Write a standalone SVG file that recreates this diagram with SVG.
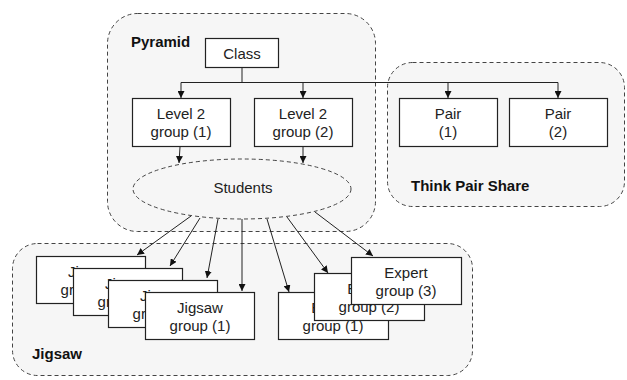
<svg xmlns="http://www.w3.org/2000/svg" width="627" height="380" viewBox="0 0 627 380">
<style>
.cont{fill:#f6f6f6;stroke:#444;stroke-width:1;stroke-dasharray:4 3}
.box{fill:#fff;stroke:#222;stroke-width:1.2}
.t{font-family:"Liberation Sans",Arial,sans-serif;font-size:15px;fill:#222;text-anchor:middle}
.b{font-family:"Liberation Sans",Arial,sans-serif;font-size:15px;font-weight:bold;fill:#111}
.c{fill:none;stroke:#222;stroke-width:1}
</style>
<defs>
<marker id="ah" viewBox="0 0 10 10" refX="10" refY="5" markerWidth="7" markerHeight="7" orient="auto" markerUnits="userSpaceOnUse">
<path d="M0,0 L10,5 L0,10 z" fill="#111"/>
</marker>
</defs>
<g id="pyramid">
<rect class="cont" x="107.5" y="13.5" width="268" height="218" rx="30"/>
<text class="b" x="131" y="47">Pyramid</text>
</g>
<g id="tps">
<rect class="cont" x="387.5" y="62.5" width="237" height="144" rx="25"/>
<text class="b" x="411" y="191">Think Pair Share</text>
</g>
<g id="jigsaw">
<rect class="cont" x="12.5" y="243.5" width="460" height="132" rx="25"/>
<text class="b" x="32" y="359">Jigsaw</text>
</g>
<g id="class"><rect class="box" x="205.5" y="38.5" width="73" height="29"/><text class="t" x="242" y="59">Class</text></g>
<g id="level1"><rect class="box" x="132.5" y="98.5" width="98" height="48"/><text class="t" x="181" y="119">Level 2</text><text class="t" x="181" y="137">group (1)</text></g>
<g id="level2"><rect class="box" x="254.5" y="98.5" width="98" height="48"/><text class="t" x="303" y="119">Level 2</text><text class="t" x="303" y="137">group (2)</text></g>
<g id="pair1"><rect class="box" x="399.5" y="98.5" width="98" height="48"/><text class="t" x="448" y="119">Pair</text><text class="t" x="448" y="137">(1)</text></g>
<g id="pair2"><rect class="box" x="509.5" y="98.5" width="98" height="48"/><text class="t" x="558" y="119">Pair</text><text class="t" x="558" y="137">(2)</text></g>
<g id="students"><ellipse cx="242" cy="189" rx="109" ry="30" fill="#f6f6f6" stroke="#444" stroke-dasharray="4 3"/><text class="t" x="243" y="193">Students</text></g>
<g id="connectors">
<path class="c" d="M242,67 V82.5 M181,82.5 H558"/>
<path class="c" marker-end="url(#ah)" d="M181,82.5 V98"/>
<path class="c" marker-end="url(#ah)" d="M303,82.5 V98"/>
<path class="c" marker-end="url(#ah)" d="M448,82.5 V98"/>
<path class="c" marker-end="url(#ah)" d="M558,82.5 V98"/>
<path class="c" marker-end="url(#ah)" d="M180,147 L179,163"/>
<path class="c" marker-end="url(#ah)" d="M303,147 L303,163"/>
<path class="c" marker-end="url(#ah)" d="M191,216 L137,255"/>
<path class="c" marker-end="url(#ah)" d="M200,218 L170,266"/>
<path class="c" marker-end="url(#ah)" d="M218,219 L207,278"/>
<path class="c" marker-end="url(#ah)" d="M242,219 L242,291"/>
<path class="c" marker-end="url(#ah)" d="M267,219 L289,292"/>
<path class="c" marker-end="url(#ah)" d="M287,217 L328,273"/>
<path class="c" marker-end="url(#ah)" d="M315,212 L373,256"/>
</g>
<g id="jig4"><rect class="box" x="36.5" y="256.5" width="109" height="47"/><text class="t" x="91" y="277">Jigsaw</text><text class="t" x="91" y="295">group (4)</text></g>
<g id="jig3"><rect class="box" x="73.5" y="268.5" width="109" height="47"/><text class="t" x="128" y="289">Jigsaw</text><text class="t" x="128" y="307">group (3)</text></g>
<g id="jig2"><rect class="box" x="108.5" y="280.5" width="109" height="47"/><text class="t" x="163" y="301">Jigsaw</text><text class="t" x="163" y="319">group (2)</text></g>
<g id="jig1"><rect class="box" x="145.5" y="292.5" width="109" height="47"/><text class="t" x="200" y="313">Jigsaw</text><text class="t" x="200" y="331">group (1)</text></g>
<g id="exp1"><rect class="box" x="278.5" y="292.5" width="110" height="47"/><text class="t" x="333" y="313">Expert</text><text class="t" x="333" y="331">group (1)</text></g>
<g id="exp2"><rect class="box" x="314.5" y="273.5" width="110" height="47"/><text class="t" x="369" y="294">Expert</text><text class="t" x="369" y="312">group (2)</text></g>
<g id="exp3"><rect class="box" x="351.5" y="257.5" width="110" height="47"/><text class="t" x="406" y="278">Expert</text><text class="t" x="406" y="296">group (3)</text></g>
</svg>
